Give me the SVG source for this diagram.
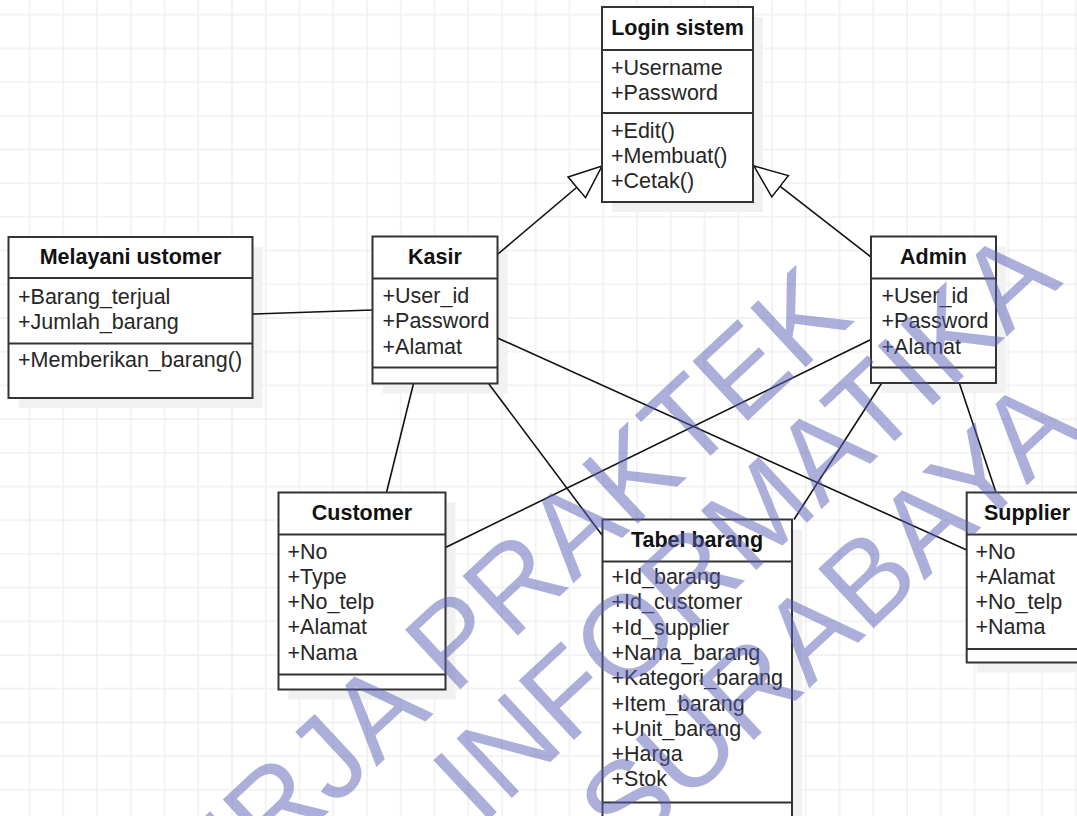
<svg xmlns="http://www.w3.org/2000/svg" width="1077" height="816" viewBox="0 0 1077 816">
<defs>
<pattern id="grid" patternUnits="userSpaceOnUse" x="28.5" y="13.7" width="33.75" height="33.7">
<path d="M0 1 H34 M1 0 V34" stroke="#efefef" stroke-width="1.5" fill="none"/>
</pattern>
<marker id="gen" markerUnits="userSpaceOnUse" markerWidth="36" markerHeight="30" refX="33" refY="13.5" orient="auto" viewBox="-1 -1 36 30">
<path d="M0,0 L33,13.5 L0,27 Z" fill="#fff" stroke="#111" stroke-width="1.5"/>
</marker>
</defs>
<style>
.box{fill:#fff;stroke:#333;stroke-width:2}
.shadow{fill:#f1f1f1}
.div{stroke:#333;stroke-width:2}
.title{font-family:"Liberation Sans",Arial,sans-serif;font-size:21.5px;font-weight:bold;fill:#111;text-anchor:middle}
.attr{font-family:"Liberation Sans",Arial,sans-serif;font-size:21.5px;fill:#262626}
.edge{stroke:#111;stroke-width:1.6;fill:none}
.wm{font-family:"Liberation Sans",Arial,sans-serif;font-size:118px;fill:#5a5fb4;fill-opacity:0.5;text-anchor:end}
</style>
<rect width="1077" height="816" fill="#fff"/>
<rect width="1077" height="816" fill="url(#grid)"/>

<g id="shadows">
<rect class="shadow" x="612" y="17" width="151" height="195"/>
<rect class="shadow" x="18.5" y="247" width="244" height="161"/>
<rect class="shadow" x="382.5" y="246.5" width="125" height="147"/>
<rect class="shadow" x="881" y="246.5" width="125" height="146.5"/>
<rect class="shadow" x="288.5" y="502.5" width="167" height="197"/>
<rect class="shadow" x="612.5" y="529.5" width="189.5" height="300"/>
<rect class="shadow" x="976.7" y="502.5" width="121" height="170"/>
</g>

<g id="connectors">
<line class="edge" x1="498" y1="254" x2="602" y2="166" marker-end="url(#gen)"/>
<line class="edge" x1="871" y1="257" x2="754" y2="166" marker-end="url(#gen)"/>
<line class="edge" x1="253" y1="314" x2="372.5" y2="310"/>
<line class="edge" x1="413.5" y1="383.5" x2="386.5" y2="492.5"/>
<line class="edge" x1="488.5" y1="383.5" x2="602" y2="535"/>
<line class="edge" x1="497.5" y1="338" x2="966.7" y2="550"/>
<line class="edge" x1="871" y1="339.5" x2="445.5" y2="547.5"/>
<line class="edge" x1="881.7" y1="383" x2="794" y2="519.5"/>
<line class="edge" x1="959.3" y1="383" x2="996" y2="492.5"/>
</g>

<g id="login">
<rect class="box" x="602" y="7" width="151" height="195"/>
<line class="div" x1="602" y1="50" x2="753" y2="50"/>
<line class="div" x1="602" y1="113" x2="753" y2="113"/>
<text class="title" x="677.5" y="35">Login sistem</text>
<text class="attr" x="611" y="74.5">+Username</text>
<text class="attr" x="611" y="99.5">+Password</text>
<text class="attr" x="611" y="137.5">+Edit()</text>
<text class="attr" x="611" y="162.5">+Membuat()</text>
<text class="attr" x="611" y="187.5">+Cetak()</text>
</g>

<g id="melayani">
<rect class="box" x="8.5" y="237" width="244" height="161"/>
<line class="div" x1="8.5" y1="278" x2="252.5" y2="278"/>
<line class="div" x1="8.5" y1="343.5" x2="252.5" y2="343.5"/>
<text class="title" x="130.5" y="263.5">Melayani ustomer</text>
<text class="attr" x="18" y="303.5">+Barang_terjual</text>
<text class="attr" x="18" y="329">+Jumlah_barang</text>
<text class="attr" x="18" y="367">+Memberikan_barang()</text>
</g>

<g id="kasir">
<rect class="box" x="372.5" y="236.5" width="125" height="147"/>
<line class="div" x1="372.5" y1="278.5" x2="497.5" y2="278.5"/>
<line class="div" x1="372.5" y1="367.5" x2="497.5" y2="367.5"/>
<text class="title" x="435" y="263.5">Kasir</text>
<text class="attr" x="382.5" y="303">+User_id</text>
<text class="attr" x="382.5" y="328.3">+Password</text>
<text class="attr" x="382.5" y="353.6">+Alamat</text>
</g>

<g id="admin">
<rect class="box" x="871" y="236.5" width="125" height="146.5"/>
<line class="div" x1="871" y1="278.5" x2="996" y2="278.5"/>
<line class="div" x1="871" y1="367.5" x2="996" y2="367.5"/>
<text class="title" x="933.5" y="263.5">Admin</text>
<text class="attr" x="881.5" y="303">+User_id</text>
<text class="attr" x="881.5" y="328.3">+Password</text>
<text class="attr" x="881.5" y="353.6">+Alamat</text>
</g>

<g id="customer">
<rect class="box" x="278.5" y="492.5" width="167" height="197"/>
<line class="div" x1="278.5" y1="534.5" x2="445.5" y2="534.5"/>
<line class="div" x1="278.5" y1="674.5" x2="445.5" y2="674.5"/>
<text class="title" x="362" y="520">Customer</text>
<text class="attr" x="287.5" y="558.5">+No</text>
<text class="attr" x="287.5" y="583.8">+Type</text>
<text class="attr" x="287.5" y="609.1">+No_telp</text>
<text class="attr" x="287.5" y="634.4">+Alamat</text>
<text class="attr" x="287.5" y="659.7">+Nama</text>
</g>

<g id="tabel-barang">
<rect class="box" x="602.5" y="519.5" width="189.5" height="300"/>
<line class="div" x1="602.5" y1="561.5" x2="792" y2="561.5"/>
<line class="div" x1="602.5" y1="802.5" x2="792" y2="802.5"/>
<text class="title" x="697" y="546.5">Tabel barang</text>
<text class="attr" x="611.5" y="584">+Id_barang</text>
<text class="attr" x="611.5" y="609.3">+Id_customer</text>
<text class="attr" x="611.5" y="634.6">+Id_supplier</text>
<text class="attr" x="611.5" y="659.9">+Nama_barang</text>
<text class="attr" x="611.5" y="685.2">+Kategori_barang</text>
<text class="attr" x="611.5" y="710.5">+Item_barang</text>
<text class="attr" x="611.5" y="735.8">+Unit_barang</text>
<text class="attr" x="611.5" y="761.1">+Harga</text>
<text class="attr" x="611.5" y="786.4">+Stok</text>
</g>

<g id="supplier">
<rect class="box" x="966.7" y="492.5" width="121" height="170"/>
<line class="div" x1="966.7" y1="534.5" x2="1087.7" y2="534.5"/>
<line class="div" x1="966.7" y1="649" x2="1087.7" y2="649"/>
<text class="title" x="1027" y="520">Supplier</text>
<text class="attr" x="975.5" y="558.5">+No</text>
<text class="attr" x="975.5" y="583.8">+Alamat</text>
<text class="attr" x="975.5" y="609.1">+No_telp</text>
<text class="attr" x="975.5" y="634.4">+Nama</text>
</g>

<g id="watermark">
<text class="wm" transform="translate(856,320) rotate(-43)">KERJA PRAKTEK</text>
<text class="wm" transform="translate(1064,283) rotate(-43)">INFORMATIKA</text>
<text class="wm" transform="translate(1084,432) rotate(-43)">SURABAYA</text>
</g>
</svg>
